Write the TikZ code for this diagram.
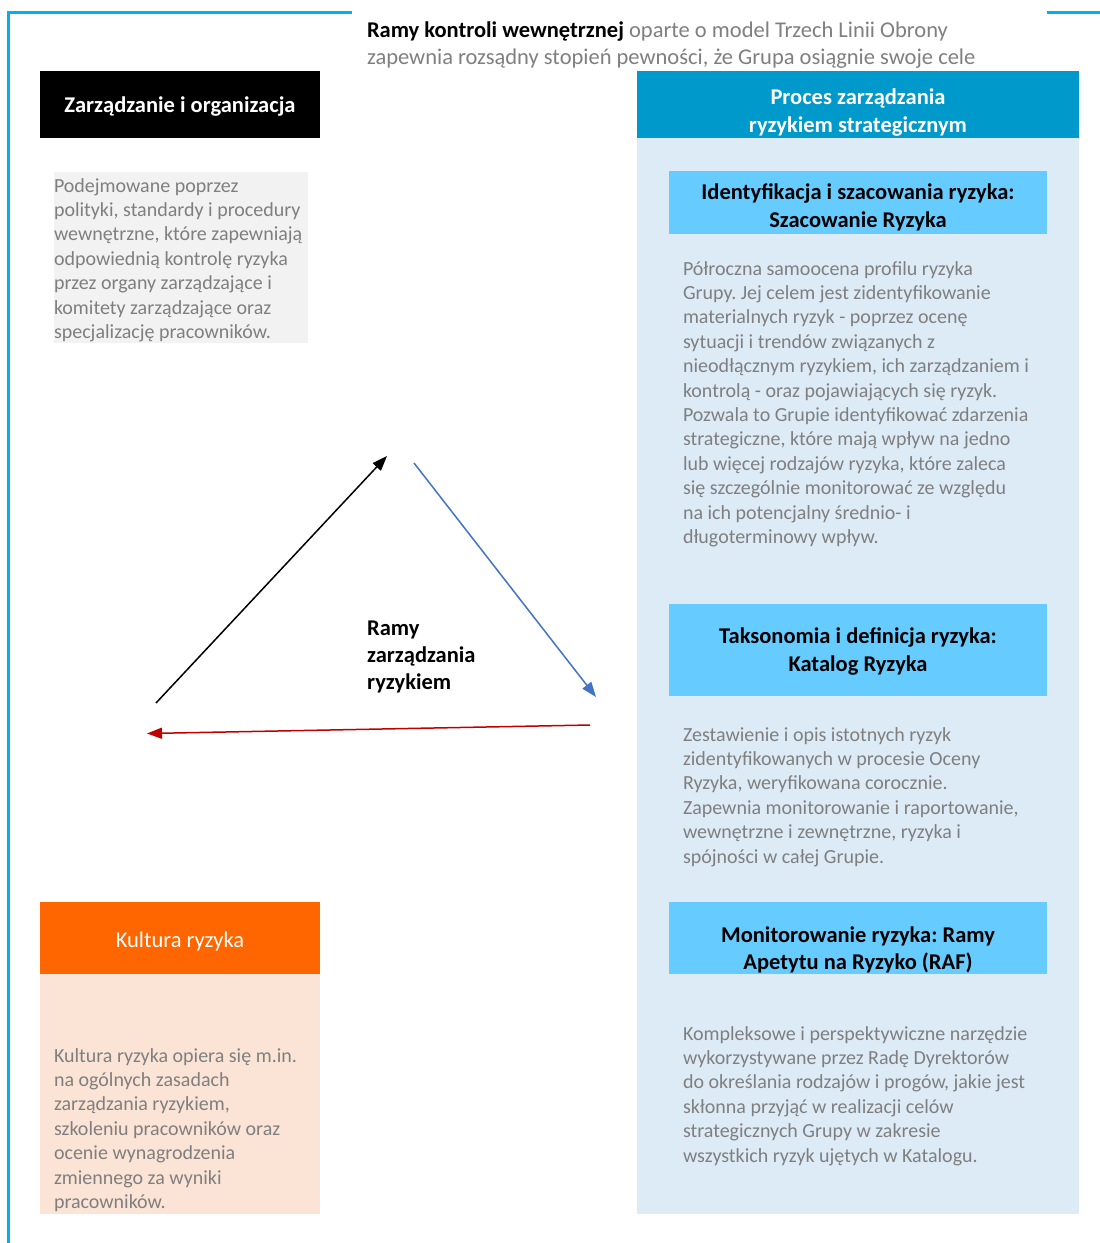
\documentclass[tikz,border=0pt]{standalone}
\usepackage{fontspec}
\setmainfont{Carlito}
\frenchspacing
\usetikzlibrary{arrows.meta}
\definecolor{cyanline}{HTML}{00B0F0}
\definecolor{bodygrey}{HTML}{7F7F7F}
\definecolor{greybox}{HTML}{F2F2F2}
\definecolor{hdrblue}{HTML}{0099CC}
\definecolor{panelblue}{HTML}{DDEBF7}
\definecolor{boxblue}{HTML}{66CCFF}
\definecolor{orangehdr}{HTML}{FF6600}
\definecolor{peach}{HTML}{FBE4D5}
\definecolor{arrowblue}{HTML}{4472C4}
\definecolor{arrowred}{HTML}{C00000}
\begin{document}
\begin{tikzpicture}[x=1pt,y=-1pt,
  box/.style={anchor=north west, inner sep=0pt, outer sep=0pt, draw=none},
  bodytxt/.style={anchor=base west, inner sep=0pt, outer sep=0pt, text=bodygrey,
    font=\fontsize{20}{24.4}\selectfont},
  headtxt/.style={anchor=base, inner sep=0pt, outer sep=0pt,
    font=\fontsize{22.5}{28}\selectfont\bfseries},
  titletxt/.style={anchor=base west, inner sep=0pt, outer sep=0pt, text=bodygrey,
    font=\fontsize{22.5}{27.5}\selectfont},
  flow/.style={line width=1.5pt, -{Triangle[length=15pt,width=11pt]}}
]
\useasboundingbox (0,0) rectangle (1100,1243);

% frame lines
\coordinate (fA) at (352,12.5);
\coordinate (fB) at (8,12.5);
\coordinate (fC) at (8,1243);
\coordinate (fD) at (1047,12.5);
\coordinate (fE) at (1100,12.5);
\draw[cyanline, line width=3pt] (fA) -- (fB) -- (fC);
\draw[cyanline, line width=3pt] (fD) -- (fE);

% title
\node[titletxt] (title) at (367,37) {\parbox[t]{740pt}{\raggedright\leavevmode
  {\color{black}\bfseries Ramy kontroli wewnętrznej} oparte o model Trzech Linii Obrony\\
  zapewnia rozsądny stopień pewności, że Grupa osiągnie swoje cele}};

% left column
\node[box, fill=black, minimum width=280pt, minimum height=67pt] (zo) at (40,71) {};
\node[headtxt, text=white] (zot) at (180,112) {Zarządzanie i organizacja};

\node[box, fill=greybox, minimum width=254pt, minimum height=171pt] (gb) at (54,172) {};
\node[bodytxt] (gbt) at (54,192) {\parbox[t]{260pt}{\raggedright
  Podejmowane poprzez\\
  polityki, standardy i procedury\\
  wewnętrzne, które zapewniają\\
  odpowiednią kontrolę ryzyka\\
  przez organy zarządzające i\\
  komitety zarządzające oraz\\
  specjalizację pracowników.}};

\node[box, fill=orangehdr, minimum width=280pt, minimum height=72pt] (kr) at (40,902) {};
\node[headtxt, text=white, font=\fontsize{22.5}{28}\selectfont] (krt) at (180,947) {Kultura ryzyka};
\node[box, fill=peach, minimum width=280pt, minimum height=240pt] (krb) at (40,974) {};
\node[bodytxt] (krbt) at (54,1062) {\parbox[t]{264pt}{\raggedright
  Kultura ryzyka opiera się m.in.\\
  na ogólnych zasadach\\
  zarządzania ryzykiem,\\
  szkoleniu pracowników oraz\\
  ocenie wynagrodzenia\\
  zmiennego za wyniki\\
  pracowników.}};

% right column
\node[box, fill=hdrblue, minimum width=442pt, minimum height=67pt] (ph) at (637,71) {};
\node[box, fill=panelblue, minimum width=442pt, minimum height=1076pt] (pp) at (637,138) {};
\node[headtxt, text=white] (pht) at (858,104) {\parbox[t]{420pt}{\centering
  Proces zarządzania\\ryzykiem strategicznym}};

\node[box, fill=boxblue, minimum width=378pt, minimum height=63pt] (b1) at (669,171) {};
\node[headtxt] (b1t) at (858,199) {\parbox[t]{376pt}{\centering
  Identyfikacja i szacowania ryzyka:\\Szacowanie Ryzyka}};
\node[bodytxt] (t1) at (683,275) {\parbox[t]{360pt}{\raggedright
  Półroczna samoocena profilu ryzyka\\
  Grupy. Jej celem jest zidentyfikowanie\\
  materialnych ryzyk - poprzez ocenę\\
  sytuacji i trendów związanych z\\
  nieodłącznym ryzykiem, ich zarządzaniem i\\
  kontrolą - oraz pojawiających się ryzyk.\\
  Pozwala to Grupie identyfikować zdarzenia\\
  strategiczne, które mają wpływ na jedno\\
  lub więcej rodzajów ryzyka, które zaleca\\
  się szczególnie monitorować ze względu\\
  na ich potencjalny średnio- i\\
  długoterminowy wpływ.}};

\node[box, fill=boxblue, minimum width=378pt, minimum height=92pt] (b2) at (669,604) {};
\node[headtxt] (b2t) at (858,643) {\parbox[t]{376pt}{\centering
  Taksonomia i definicja ryzyka:\\Katalog Ryzyka}};
\node[bodytxt] (t2) at (683,741) {\parbox[t]{360pt}{\raggedright
  Zestawienie i opis istotnych ryzyk\\
  zidentyfikowanych w procesie Oceny\\
  Ryzyka, weryfikowana corocznie.\\
  Zapewnia monitorowanie i raportowanie,\\
  wewnętrzne i zewnętrzne, ryzyka i\\
  spójności w całej Grupie.}};

\node[box, fill=boxblue, minimum width=378pt, minimum height=72pt] (b3) at (669,902) {};
\node[headtxt, font=\fontsize{22.5}{27}\selectfont\bfseries] (b3t) at (858,942) {\parbox[t]{376pt}{\centering
  Monitorowanie ryzyka: Ramy\\Apetytu na Ryzyko (RAF)}};
\node[bodytxt] (t3) at (683,1040) {\parbox[t]{360pt}{\raggedright
  Kompleksowe i perspektywiczne narzędzie\\
  wykorzystywane przez Radę Dyrektorów\\
  do określania rodzajów i progów, jakie jest\\
  skłonna przyjąć w realizacji celów\\
  strategicznych Grupy w zakresie\\
  wszystkich ryzyk ujętych w Katalogu.}};

% centre label
\node[anchor=base west, inner sep=0pt, font=\fontsize{22.5}{27}\selectfont\bfseries] (rz) at (367,635)
  {\parbox[t]{160pt}{\raggedright Ramy\\zarządzania\\ryzykiem}};

% cycle arrows
\coordinate (a1s) at (156,703);
\coordinate (a1e) at (387,456);
\coordinate (a2s) at (414,463);
\coordinate (a2e) at (596,697);
\coordinate (a3s) at (590,725);
\coordinate (a3e) at (147,733.5);
\draw[flow, black] (a1s) -- (a1e);
\draw[flow, arrowblue] (a2s) -- (a2e);
\draw[flow, arrowred] (a3s) -- (a3e);
\end{tikzpicture}
\end{document}
